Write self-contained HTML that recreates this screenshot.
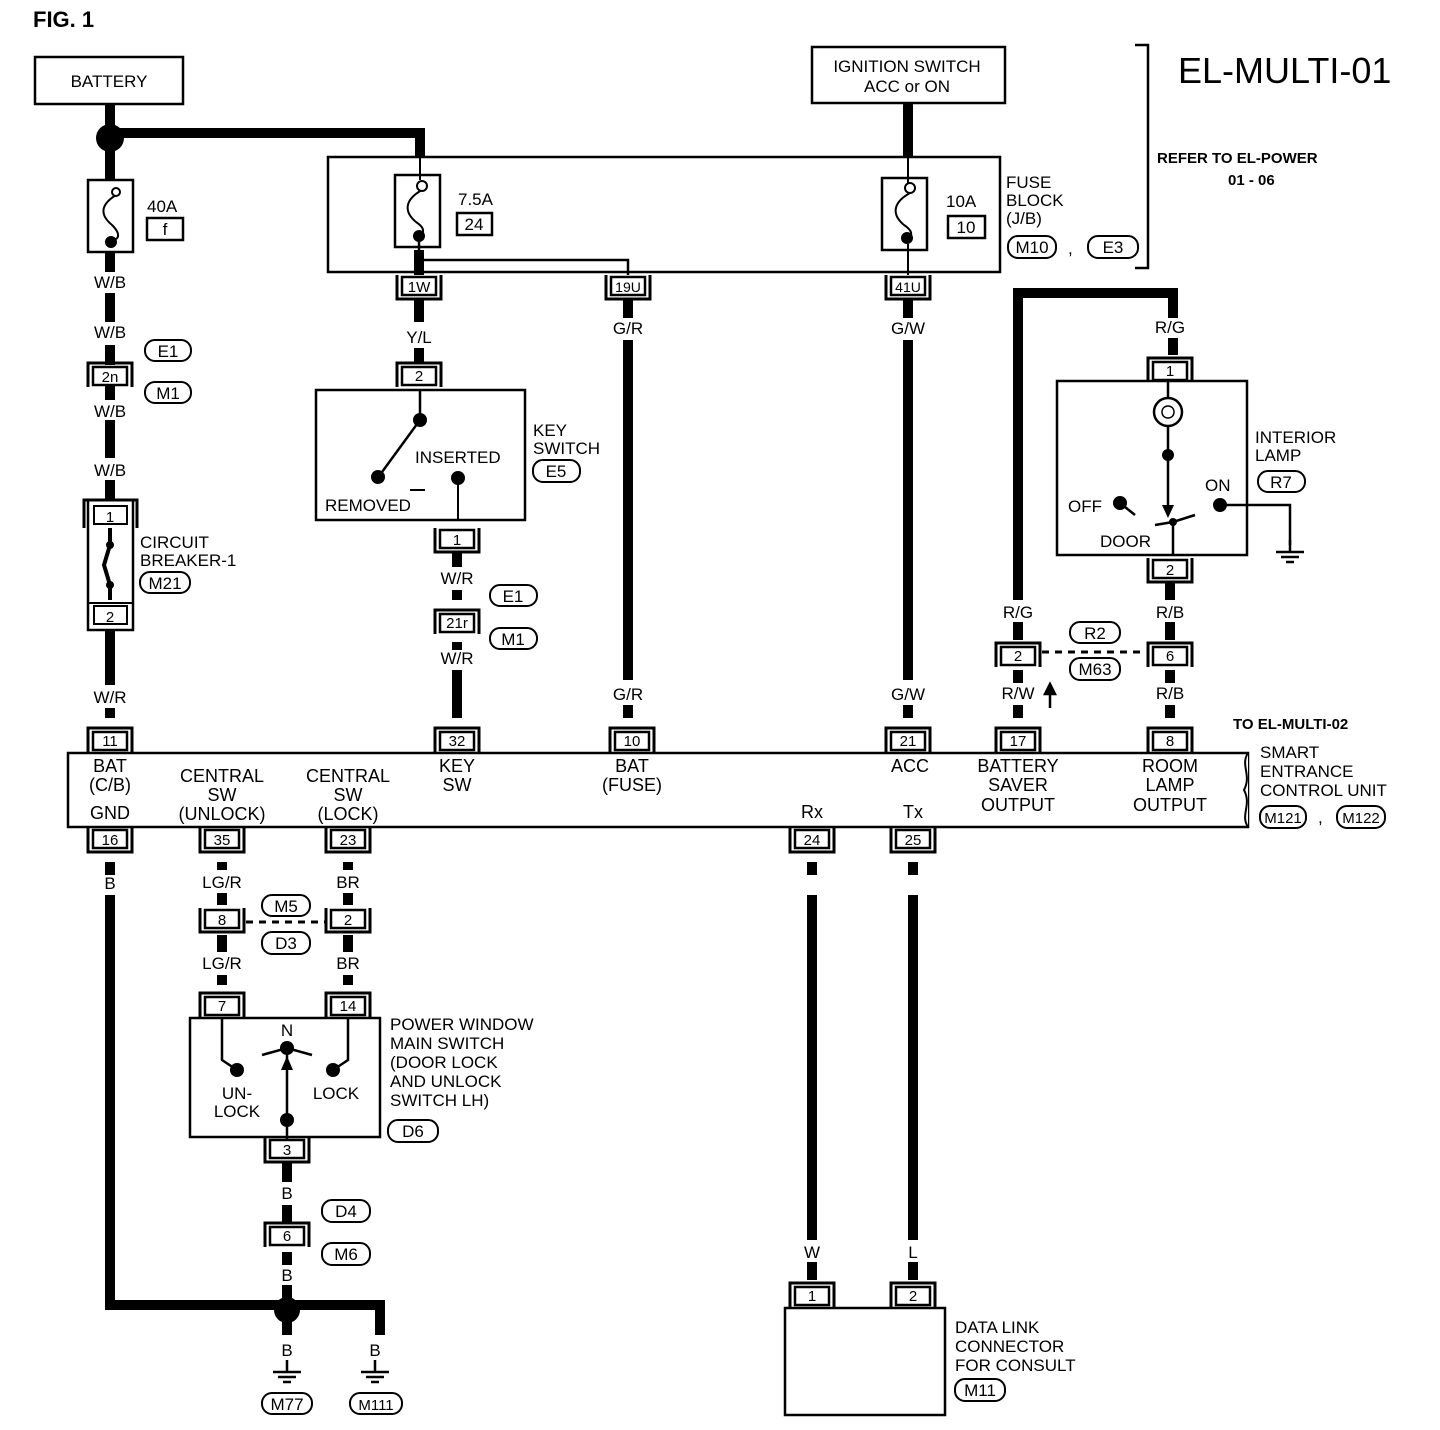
<!DOCTYPE html>
<html><head><meta charset="utf-8"><style>
html,body{margin:0;padding:0;background:#fff}
svg{display:block}
text{font-family:"Liberation Sans",Arial,sans-serif;fill:#000}
</style></head><body>
<svg width="1440" height="1430" viewBox="0 0 1440 1430" xmlns="http://www.w3.org/2000/svg">
<defs>
<g id="ct"><path d="M-22,12 V-12 H22 V12" fill="none" stroke="#000" stroke-width="3"/><rect x="-17" y="-8" width="34" height="18" fill="#fff" stroke="#000" stroke-width="2.5"/></g>
<g id="cb"><path d="M-22,-12 V12 H22 V-12" fill="none" stroke="#000" stroke-width="3"/><rect x="-17" y="-10" width="34" height="18" fill="#fff" stroke="#000" stroke-width="2.5"/></g>
<g id="gnd"><path d="M0,0 V12 M-14,12 H14 M-9,17 H9 M-4,22 H4" stroke="#000" stroke-width="2.5" fill="none"/></g>
</defs>
<g font-size="17">
<text x="33" y="27" font-size="22" font-weight="bold">FIG. 1</text>

<rect x="35" y="57" width="148" height="47" fill="none" stroke="#000" stroke-width="2.5"/>
<text x="109" y="87" text-anchor="middle">BATTERY</text>
<g stroke="#000" stroke-width="10" fill="none">
<path d="M110,104 V180"/>
<path d="M110,133 H420 V158"/>
<path d="M110,252 V272 M110,293 V322 M110,345 V365 M110,385 V400 M110,420 V458 M110,480 V500"/>
<path d="M110,630 V685 M110,708 V718"/>
<path d="M110,862 V875 M110,895 V1305 H380 V1335"/>
<path d="M287,1305 V1335"/>
<path d="M419,250 V275 M419,300 V322 M419,348 V362"/>
<path d="M628,298 V318 M628,340 V680 M628,705 V718"/>
<path d="M908,103 V158 M908,298 V318 M908,340 V680 M908,705 V718"/>
<path d="M457,553 V567 M457,590 V600 M457,642 V650 M457,670 V718"/>
<path d="M1018,600 V293 H1173 V318 M1173,338 V355"/>
<path d="M1170,582 V600 M1170,622 V640 M1170,670 V683 M1170,705 V718"/>
<path d="M1018,622 V640 M1018,670 V683 M1018,705 V718"/>
<path d="M222,862 V870 M222,893 V905 M222,935 V952 M222,975 V985"/>
<path d="M348,862 V870 M348,893 V905 M348,935 V952 M348,975 V985"/>
<path d="M287,1162 V1182 M287,1205 V1222 M287,1252 V1265 M287,1285 V1335"/>
<path d="M812,862 V875 M812,895 V1240 M812,1262 V1280"/>
<path d="M913,862 V875 M913,895 V1240 M913,1262 V1280"/>
</g>
<circle cx="110" cy="138" r="14"/>
<circle cx="287" cy="1310" r="13"/>

<rect x="88" y="180" width="45" height="72" fill="#fff" stroke="#000" stroke-width="2.5"/>
<path d="M116,195 C100,205 100,215 112,225 C122,235 118,240 112,240" fill="none" stroke="#000" stroke-width="2"/>
<circle cx="116" cy="192" r="4" fill="#fff" stroke="#000" stroke-width="2"/>
<circle cx="111" cy="242" r="6"/>
<text x="147" y="212">40A</text>
<rect x="147" y="218" width="36" height="22" fill="none" stroke="#000" stroke-width="2.5"/>
<text x="165" y="235" text-anchor="middle">f</text>
<text x="110" y="288" text-anchor="middle">W/B</text>
<text x="110" y="338" text-anchor="middle">W/B</text>
<use href="#ct" x="110" y="375"/><text x="110" y="382" text-anchor="middle" font-size="15">2n</text>
<rect x="145" y="340" width="46" height="21" rx="10" fill="none" stroke="#000" stroke-width="2"/><text x="168" y="357" text-anchor="middle">E1</text>
<rect x="145" y="382" width="46" height="21" rx="10" fill="none" stroke="#000" stroke-width="2"/><text x="168" y="399" text-anchor="middle">M1</text>
<text x="110" y="417" text-anchor="middle">W/B</text>
<text x="110" y="476" text-anchor="middle">W/B</text>
<rect x="88" y="500" width="45" height="130" fill="#fff" stroke="#000" stroke-width="2.5"/>
<path d="M84,528 V500 H137 V528" fill="none" stroke="#000" stroke-width="3"/>
<rect x="94" y="506" width="33" height="18" fill="#fff" stroke="#000" stroke-width="2"/><text x="110" y="522" text-anchor="middle" font-size="15">1</text>
<rect x="94" y="606" width="33" height="18" fill="#fff" stroke="#000" stroke-width="2"/><text x="110" y="622" text-anchor="middle" font-size="15">2</text>
<line x1="88" y1="603" x2="133" y2="603" stroke="#000" stroke-width="2"/>
<path d="M110,528 V545 L104,565 L110,585 V600" fill="none" stroke="#000" stroke-width="4"/>
<circle cx="110" cy="545" r="4"/><circle cx="110" cy="585" r="4"/>
<text x="140" y="548">CIRCUIT</text><text x="140" y="566">BREAKER-1</text>
<rect x="140" y="572" width="50" height="21" rx="10" fill="none" stroke="#000" stroke-width="2"/><text x="165" y="589" text-anchor="middle">M21</text>
<text x="110" y="703" text-anchor="middle">W/R</text>
<use href="#ct" x="110" y="740"/><text x="110" y="746" text-anchor="middle" font-size="15">11</text>

<rect x="328" y="157" width="672" height="115" fill="none" stroke="#000" stroke-width="2.5"/>
<rect x="395" y="175" width="45" height="72" fill="#fff" stroke="#000" stroke-width="2.5"/>
<path d="M422,190 C404,200 404,212 416,222 C428,230 422,235 418,236" fill="none" stroke="#000" stroke-width="2"/>
<circle cx="422" cy="186" r="5" fill="#fff" stroke="#000" stroke-width="2"/>
<circle cx="419" cy="236" r="6"/>
<path d="M420,158 V180" stroke="#000" stroke-width="2"/>
<text x="458" y="205">7.5A</text>
<rect x="457" y="213" width="35" height="22" fill="none" stroke="#000" stroke-width="2.5"/><text x="474" y="230" text-anchor="middle">24</text>
<path d="M419,242 V275 M419,260 H628 V275" fill="none" stroke="#000" stroke-width="2.5"/>
<circle cx="419" cy="260" r="4"/>
<rect x="882" y="178" width="45" height="72" fill="#fff" stroke="#000" stroke-width="2.5"/>
<path d="M910,193 C892,203 892,215 904,225 C916,233 910,238 907,238" fill="none" stroke="#000" stroke-width="2"/>
<circle cx="910" cy="188" r="5" fill="#fff" stroke="#000" stroke-width="2"/>
<circle cx="907" cy="238" r="6"/>
<path d="M908,158 V183 M908,244 V275" stroke="#000" stroke-width="2"/>
<text x="946" y="207">10A</text>
<rect x="948" y="216" width="37" height="22" fill="none" stroke="#000" stroke-width="2.5"/><text x="966" y="233" text-anchor="middle">10</text>
<text x="1006" y="188">FUSE</text><text x="1006" y="206">BLOCK</text><text x="1006" y="224">(J/B)</text>
<rect x="1008" y="236" width="48" height="22" rx="10" fill="none" stroke="#000" stroke-width="2"/><text x="1032" y="253" text-anchor="middle">M10</text>
<text x="1068" y="254">,</text>
<rect x="1088" y="236" width="50" height="22" rx="10" fill="none" stroke="#000" stroke-width="2"/><text x="1113" y="253" text-anchor="middle">E3</text>
<use href="#cb" x="419" y="287"/><text x="419" y="292" text-anchor="middle" font-size="15">1W</text>
<use href="#cb" x="628" y="287"/><text x="628" y="292" text-anchor="middle" font-size="14">19U</text>
<use href="#cb" x="908" y="287"/><text x="908" y="292" text-anchor="middle" font-size="14">41U</text>

<rect x="812" y="47" width="193" height="56" fill="#fff" stroke="#000" stroke-width="2.5"/>
<text x="907" y="72" text-anchor="middle">IGNITION SWITCH</text><text x="907" y="92" text-anchor="middle">ACC or ON</text>
<path d="M1135,45 H1148 V268 H1135" fill="none" stroke="#000" stroke-width="2.5"/>
<text x="1178" y="83" font-size="36">EL-MULTI-01</text>
<text x="1157" y="163" font-size="15" font-weight="bold">REFER TO EL-POWER</text>
<text x="1228" y="185" font-size="15" font-weight="bold">01 - 06</text>

<text x="419" y="343" text-anchor="middle">Y/L</text>
<use href="#ct" x="419" y="375"/><text x="419" y="381" text-anchor="middle" font-size="15">2</text>
<rect x="316" y="390" width="209" height="130" fill="none" stroke="#000" stroke-width="2.5"/>
<path d="M420,390 V420 L382,472" fill="none" stroke="#000" stroke-width="2.5"/>
<circle cx="420" cy="420" r="7"/><circle cx="378" cy="477" r="7"/><circle cx="458" cy="478" r="7"/>
<path d="M458,478 V520 M410,490 H425" fill="none" stroke="#000" stroke-width="2"/>
<text x="415" y="463">INSERTED</text><text x="325" y="511">REMOVED</text>
<text x="533" y="436">KEY</text><text x="533" y="454">SWITCH</text>
<rect x="533" y="460" width="47" height="22" rx="10" fill="none" stroke="#000" stroke-width="2"/><text x="556" y="477" text-anchor="middle">E5</text>
<use href="#cb" x="457" y="540"/><text x="457" y="545" text-anchor="middle" font-size="15">1</text>
<text x="457" y="584" text-anchor="middle">W/R</text>
<use href="#ct" x="457" y="622"/><text x="457" y="628" text-anchor="middle" font-size="15">21r</text>
<rect x="490" y="585" width="47" height="21" rx="10" fill="none" stroke="#000" stroke-width="2"/><text x="513" y="602" text-anchor="middle">E1</text>
<rect x="490" y="628" width="47" height="21" rx="10" fill="none" stroke="#000" stroke-width="2"/><text x="513" y="645" text-anchor="middle">M1</text>
<text x="457" y="664" text-anchor="middle">W/R</text>
<use href="#ct" x="457" y="740"/><text x="457" y="746" text-anchor="middle" font-size="15">32</text>

<text x="628" y="334" text-anchor="middle">G/R</text>
<text x="628" y="700" text-anchor="middle">G/R</text>
<use href="#ct" x="632" y="740"/><text x="632" y="746" text-anchor="middle" font-size="15">10</text>
<text x="908" y="334" text-anchor="middle">G/W</text>
<text x="908" y="700" text-anchor="middle">G/W</text>
<use href="#ct" x="908" y="740"/><text x="908" y="746" text-anchor="middle" font-size="15">21</text>

<text x="1170" y="333" text-anchor="middle">R/G</text>
<use href="#ct" x="1170" y="370"/><text x="1170" y="376" text-anchor="middle" font-size="15">1</text>
<rect x="1057" y="381" width="190" height="174" fill="none" stroke="#000" stroke-width="2.5"/>
<path d="M1168,381 V398 M1168,426 V505" stroke="#000" stroke-width="2.5"/>
<circle cx="1168" cy="412" r="14" fill="#fff" stroke="#000" stroke-width="2.5"/>
<path d="M1162,412 C1162,404 1174,404 1174,412 C1174,420 1162,420 1162,412" fill="none" stroke="#000" stroke-width="1.5"/>
<circle cx="1168" cy="455" r="6"/>
<path d="M1162,505 L1174,505 L1168,518 Z"/>
<path d="M1120,503 L1135,515 M1155,525 L1173,522 L1195,515 M1173,522 V555 M1220,505 H1290 V545" fill="none" stroke="#000" stroke-width="2.5"/>
<circle cx="1120" cy="503" r="7"/><circle cx="1220" cy="505" r="7"/><circle cx="1173" cy="522" r="4"/>
<use href="#gnd" x="1290" y="540"/>
<text x="1068" y="512">OFF</text><text x="1205" y="491">ON</text><text x="1100" y="547">DOOR</text>
<text x="1255" y="443">INTERIOR</text><text x="1255" y="461">LAMP</text>
<rect x="1258" y="471" width="47" height="21" rx="10" fill="none" stroke="#000" stroke-width="2"/><text x="1281" y="488" text-anchor="middle">R7</text>
<use href="#cb" x="1170" y="570"/><text x="1170" y="575" text-anchor="middle" font-size="15">2</text>
<text x="1170" y="618" text-anchor="middle">R/B</text>
<use href="#ct" x="1170" y="655"/><text x="1170" y="661" text-anchor="middle" font-size="15">6</text>
<text x="1170" y="699" text-anchor="middle">R/B</text>
<use href="#ct" x="1170" y="740"/><text x="1170" y="746" text-anchor="middle" font-size="15">8</text>
<text x="1018" y="618" text-anchor="middle">R/G</text>
<use href="#ct" x="1018" y="655"/><text x="1018" y="661" text-anchor="middle" font-size="15">2</text>
<path d="M1042,652 H1146" stroke="#000" stroke-width="3" stroke-dasharray="7,6"/>
<rect x="1070" y="622" width="50" height="21" rx="10" fill="#fff" stroke="#000" stroke-width="2"/><text x="1095" y="639" text-anchor="middle">R2</text>
<rect x="1070" y="658" width="50" height="22" rx="10" fill="#fff" stroke="#000" stroke-width="2"/><text x="1095" y="675" text-anchor="middle">M63</text>
<text x="1018" y="699" text-anchor="middle">R/W</text>
<path d="M1050,708 V692 M1045,694 L1050,684 L1055,694 Z" stroke="#000" stroke-width="2.5"/>
<use href="#ct" x="1018" y="740"/><text x="1018" y="746" text-anchor="middle" font-size="15">17</text>

<rect x="68" y="753" width="1180" height="74" fill="none" stroke="#000" stroke-width="2.5"/>
<path d="M1248,753 C1240,765 1252,775 1244,790 C1252,805 1240,815 1248,827" fill="#fff" stroke="#000" stroke-width="2"/>
<g text-anchor="middle" font-size="18">
<text x="110" y="772">BAT</text><text x="110" y="791">(C/B)</text><text x="110" y="819">GND</text>
<text x="222" y="782">CENTRAL</text><text x="222" y="801">SW</text><text x="222" y="820">(UNLOCK)</text>
<text x="348" y="782">CENTRAL</text><text x="348" y="801">SW</text><text x="348" y="820">(LOCK)</text>
<text x="457" y="772">KEY</text><text x="457" y="791">SW</text>
<text x="632" y="772">BAT</text><text x="632" y="791">(FUSE)</text>
<text x="910" y="772">ACC</text>
<text x="1018" y="772">BATTERY</text><text x="1018" y="791">SAVER</text><text x="1018" y="811">OUTPUT</text>
<text x="1170" y="772">ROOM</text><text x="1170" y="791">LAMP</text><text x="1170" y="811">OUTPUT</text>
<text x="812" y="818">Rx</text><text x="913" y="818">Tx</text>
</g>
<text x="1233" y="729" font-size="15" font-weight="bold">TO EL-MULTI-02</text>
<text x="1260" y="758">SMART</text><text x="1260" y="777">ENTRANCE</text><text x="1260" y="796">CONTROL UNIT</text>
<rect x="1260" y="806" width="46" height="22" rx="10" fill="none" stroke="#000" stroke-width="2"/><text x="1283" y="823" text-anchor="middle" font-size="15">M121</text>
<text x="1318" y="823">,</text>
<rect x="1337" y="806" width="48" height="22" rx="10" fill="none" stroke="#000" stroke-width="2"/><text x="1361" y="823" text-anchor="middle" font-size="15">M122</text>
<use href="#cb" x="110" y="840"/><text x="110" y="845" text-anchor="middle" font-size="15">16</text>
<use href="#cb" x="222" y="840"/><text x="222" y="845" text-anchor="middle" font-size="15">35</text>
<use href="#cb" x="348" y="840"/><text x="348" y="845" text-anchor="middle" font-size="15">23</text>
<use href="#cb" x="812" y="840"/><text x="812" y="845" text-anchor="middle" font-size="15">24</text>
<use href="#cb" x="913" y="840"/><text x="913" y="845" text-anchor="middle" font-size="15">25</text>
<text x="110" y="889" text-anchor="middle">B</text>
<text x="222" y="888" text-anchor="middle">LG/R</text><text x="348" y="888" text-anchor="middle">BR</text>
<use href="#cb" x="222" y="920"/><text x="222" y="925" text-anchor="middle" font-size="15">8</text>
<use href="#cb" x="348" y="920"/><text x="348" y="925" text-anchor="middle" font-size="15">2</text>
<path d="M246,922 H326" stroke="#000" stroke-width="3" stroke-dasharray="7,6"/>
<rect x="262" y="895" width="48" height="21" rx="10" fill="#fff" stroke="#000" stroke-width="2"/><text x="286" y="912" text-anchor="middle">M5</text>
<rect x="262" y="932" width="48" height="22" rx="10" fill="#fff" stroke="#000" stroke-width="2"/><text x="286" y="949" text-anchor="middle">D3</text>
<text x="222" y="969" text-anchor="middle">LG/R</text><text x="348" y="969" text-anchor="middle">BR</text>
<use href="#ct" x="222" y="1005"/><text x="222" y="1011" text-anchor="middle" font-size="15">7</text>
<use href="#ct" x="348" y="1005"/><text x="348" y="1011" text-anchor="middle" font-size="15">14</text>
<rect x="190" y="1018" width="190" height="119" fill="none" stroke="#000" stroke-width="2.5"/>
<path d="M222,1018 V1060 L234,1068 M348,1018 V1060 L336,1068 M262,1055 L287,1048 L312,1055 M287,1050 V1118" fill="none" stroke="#000" stroke-width="2.5"/>
<path d="M281,1070 L293,1070 L287,1056 Z"/>
<circle cx="237" cy="1070" r="7"/><circle cx="333" cy="1070" r="7"/><circle cx="287" cy="1048" r="7"/><circle cx="287" cy="1120" r="7"/>
<path d="M287,1127 V1140" stroke="#000" stroke-width="2.5"/>
<text x="287" y="1036" text-anchor="middle">N</text>
<text x="237" y="1099" text-anchor="middle">UN-</text><text x="237" y="1117" text-anchor="middle">LOCK</text>
<text x="336" y="1099" text-anchor="middle">LOCK</text>
<text x="390" y="1030">POWER WINDOW</text><text x="390" y="1049">MAIN SWITCH</text><text x="390" y="1068">(DOOR LOCK</text><text x="390" y="1087">AND UNLOCK</text><text x="390" y="1106">SWITCH LH)</text>
<rect x="388" y="1120" width="50" height="22" rx="10" fill="none" stroke="#000" stroke-width="2"/><text x="413" y="1137" text-anchor="middle">D6</text>
<use href="#cb" x="287" y="1150"/><text x="287" y="1155" text-anchor="middle" font-size="15">3</text>
<text x="287" y="1199" text-anchor="middle">B</text>
<use href="#ct" x="287" y="1235"/><text x="287" y="1241" text-anchor="middle" font-size="15">6</text>
<rect x="322" y="1200" width="48" height="22" rx="10" fill="none" stroke="#000" stroke-width="2"/><text x="346" y="1217" text-anchor="middle">D4</text>
<rect x="322" y="1243" width="48" height="22" rx="10" fill="none" stroke="#000" stroke-width="2"/><text x="346" y="1260" text-anchor="middle">M6</text>
<text x="287" y="1281" text-anchor="middle">B</text>
<text x="287" y="1356" text-anchor="middle">B</text><text x="375" y="1356" text-anchor="middle">B</text>
<use href="#gnd" x="287" y="1360"/><use href="#gnd" x="375" y="1360"/>
<rect x="262" y="1393" width="50" height="21" rx="10" fill="none" stroke="#000" stroke-width="2"/><text x="287" y="1410" text-anchor="middle">M77</text>
<rect x="350" y="1393" width="52" height="21" rx="10" fill="none" stroke="#000" stroke-width="2"/><text x="376" y="1410" text-anchor="middle" font-size="15">M111</text>

<text x="812" y="1258" text-anchor="middle">W</text><text x="913" y="1258" text-anchor="middle">L</text>
<use href="#ct" x="812" y="1295"/><text x="812" y="1301" text-anchor="middle" font-size="15">1</text>
<use href="#ct" x="913" y="1295"/><text x="913" y="1301" text-anchor="middle" font-size="15">2</text>
<rect x="785" y="1308" width="160" height="107" fill="none" stroke="#000" stroke-width="2.5"/>
<text x="955" y="1333">DATA LINK</text><text x="955" y="1352">CONNECTOR</text><text x="955" y="1371">FOR CONSULT</text>
<rect x="955" y="1379" width="50" height="22" rx="10" fill="none" stroke="#000" stroke-width="2"/><text x="980" y="1396" text-anchor="middle">M11</text>
</g>
</svg>
</body></html>
